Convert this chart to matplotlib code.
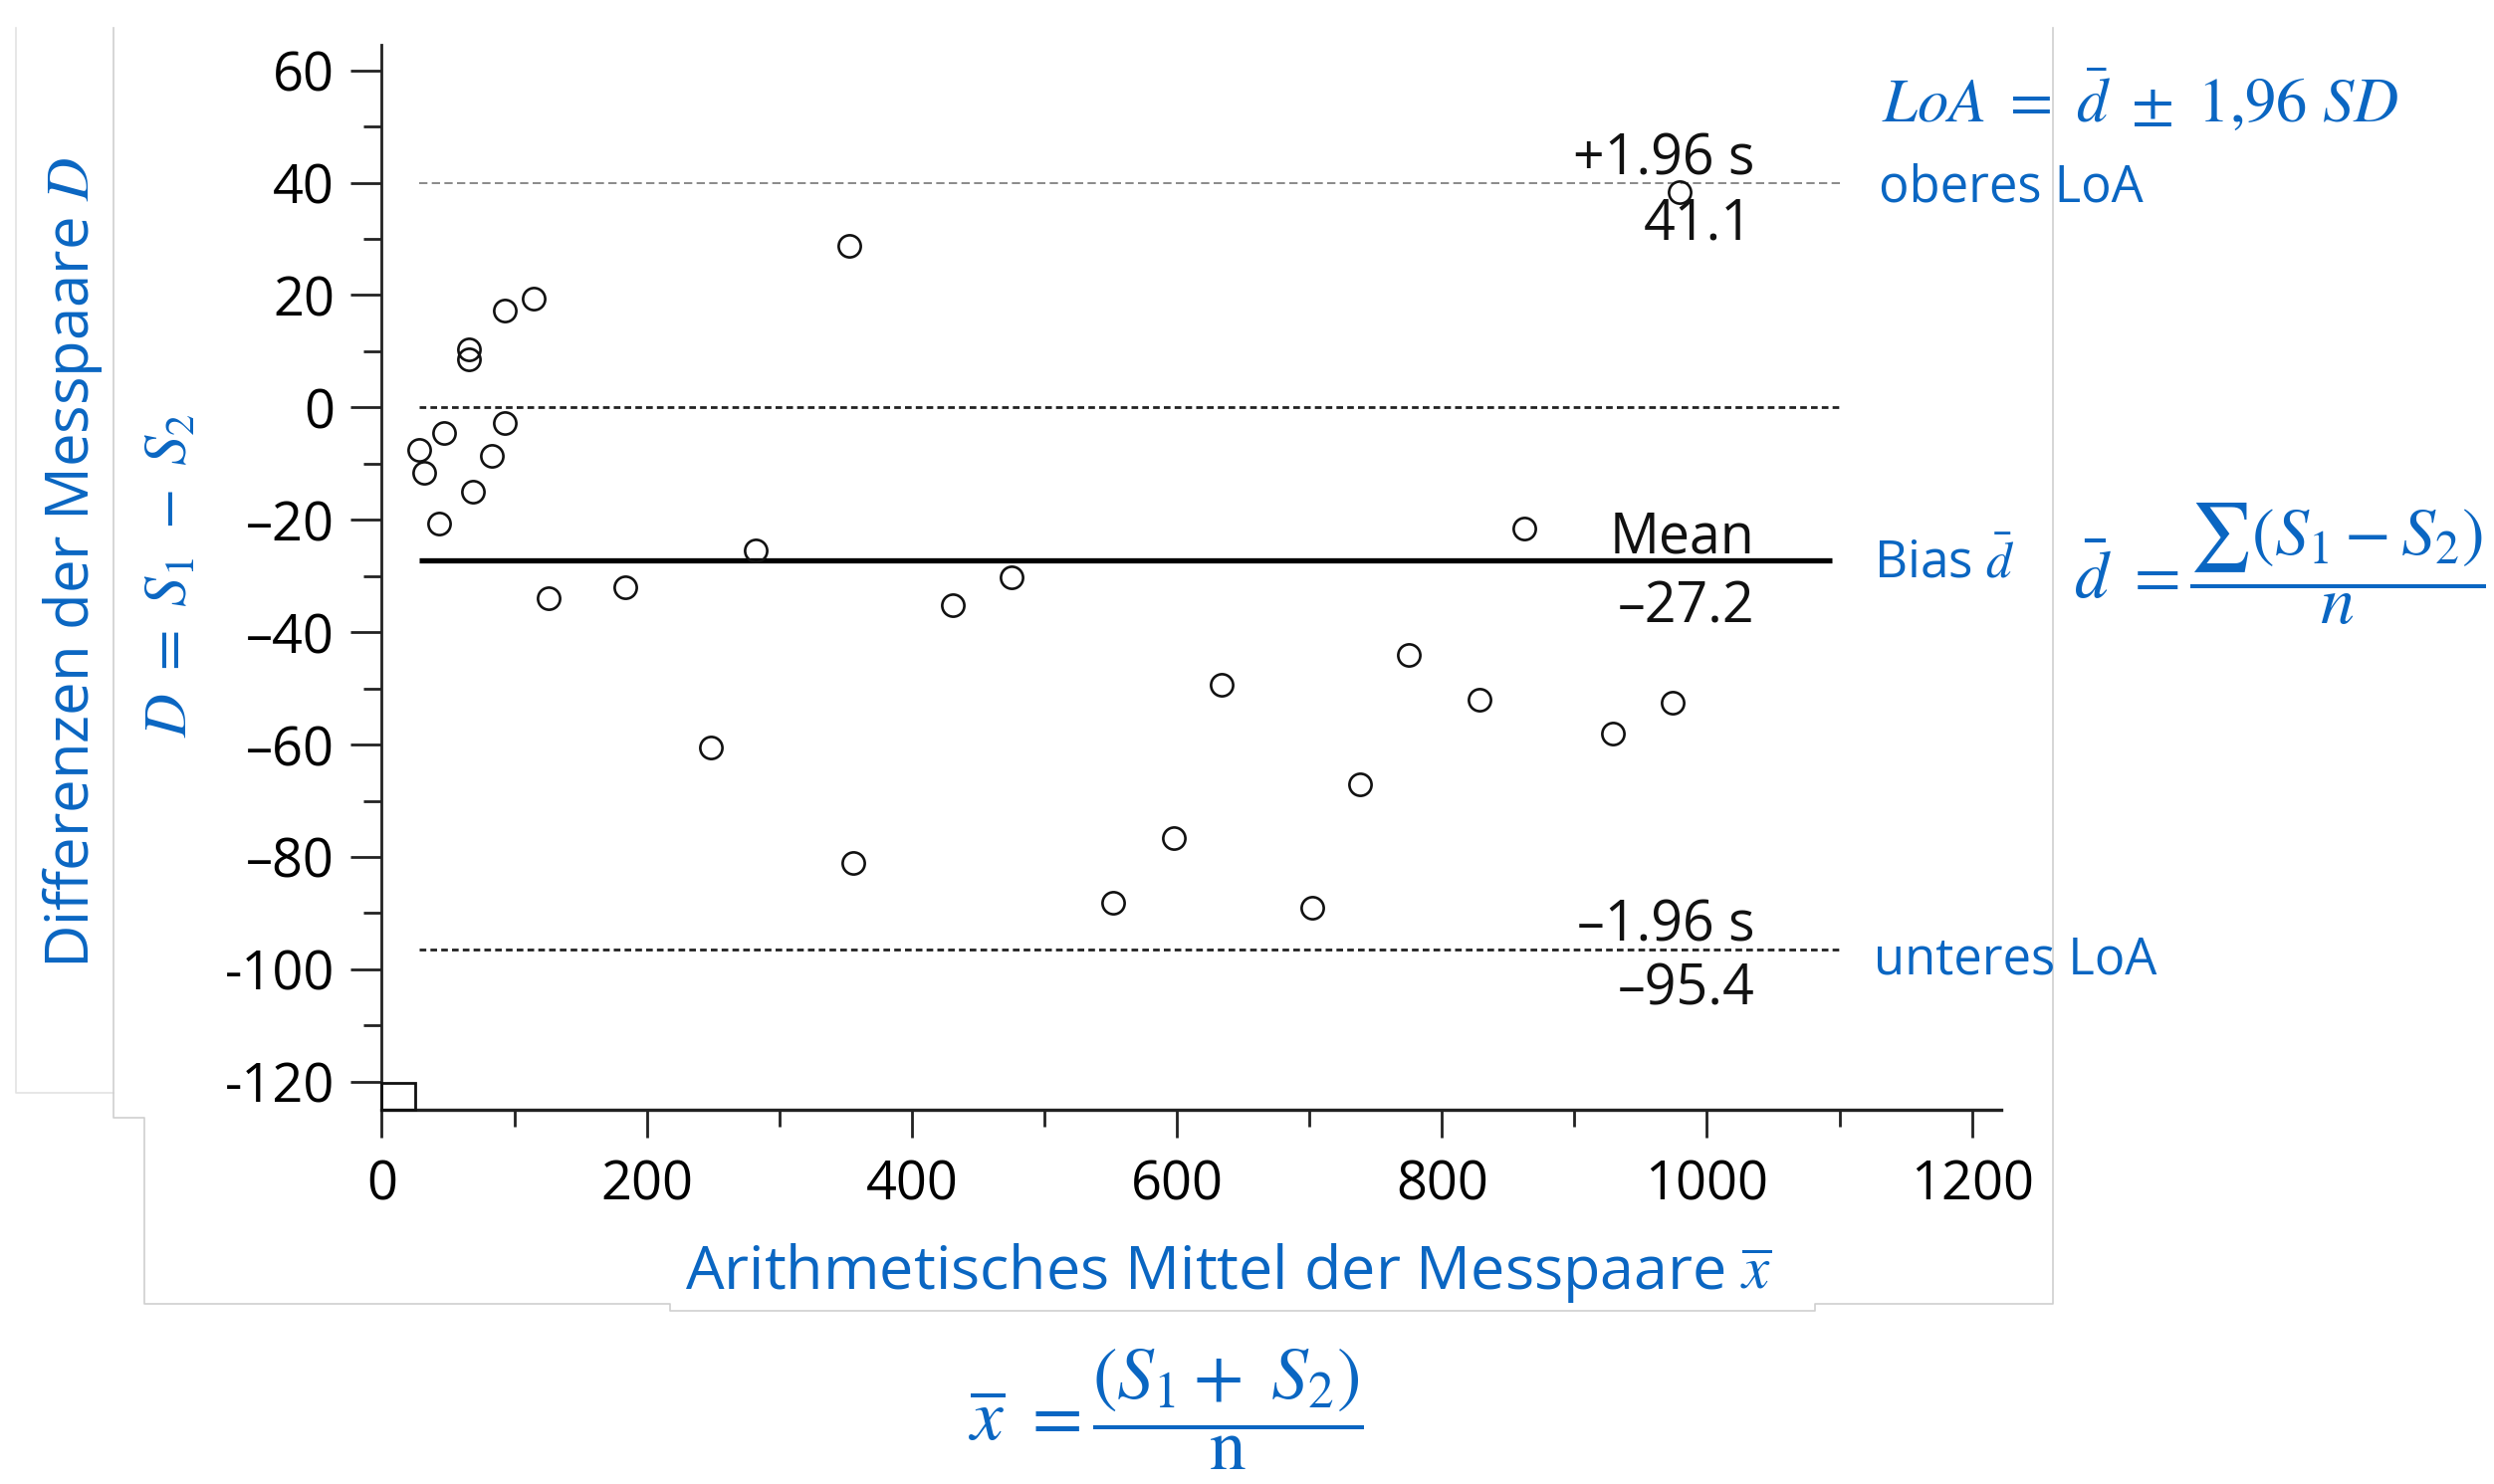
import matplotlib
matplotlib.use("Agg")
import matplotlib.pyplot as plt
from matplotlib.lines import Line2D
from matplotlib.patches import Rectangle
from matplotlib.ticker import MultipleLocator

# ---------------- data ----------------
mean_x = [28, 32, 47, 43, 66, 66, 69, 83, 93, 93, 115, 126, 184, 248, 282, 353,
          356, 431, 475, 552, 598, 634, 702, 738, 775, 828, 862, 929, 974, 979]
diff_d = [-7.5, -11.7, -4.6, -20.6, 10.3, 8.6, -15.0, -8.6, 17.3, -2.7, 19.3, -34.0,
          -32.0, -60.5, -25.5, 28.7, -81.0, -35.2, -30.3, -88.2, -76.6, -49.3, -89.0,
          -67.1, -44.0, -52.1, -21.6, -58.0, -52.6, 38.3]
bias = -27.2
loa_upper_line = 40.0
loa_lower_line = -96.5
upper_text = ["+1.96 s", "41.1"]
mean_text = ["Mean", "\u201327.2"]
lower_text = ["\u20131.96 s", "\u201395.4"]
x_ticks = [0, 200, 400, 600, 800, 1000, 1200]
x_tick_labels = ["0", "200", "400", "600", "800", "1000", "1200"]
y_ticks = [-120, -100, -80, -60, -40, -20, 0, 20, 40, 60]
y_tick_labels = ["-120", "-100", "\u201380", "\u201360", "\u201340", "\u201320", "0", "20", "40", "60"]

BLUE = "#0A66C2"
W, H = 2505, 1491

plt.rcParams["font.family"] = ["Open Sans", "DejaVu Sans"]
plt.rcParams["mathtext.fontset"] = "stix"

fig = plt.figure(figsize=(W / 100, H / 100), dpi=100)
fig.patch.set_facecolor("white")


def fx(x):
    return x / W


def fy(y):
    return 1 - y / H


# axes placement (pixel coords of reference)
ax_left, ax_right = 383.4, 2010.0
ax_bottom, ax_top = 1115.0, 45.3
ax = fig.add_axes([fx(ax_left), fy(ax_bottom), (ax_right - ax_left) / W, (ax_bottom - ax_top) / H])
ax.set_xlim(0, 1222)
ax.set_ylim(-125, 64.5)
for s in ["top", "right"]:
    ax.spines[s].set_visible(False)
ax.spines["left"].set_linewidth(2.0)
ax.spines["bottom"].set_linewidth(2.4)
ax.spines["left"].set_color("#222222")
ax.spines["bottom"].set_color("#222222")

ax.set_xticks(x_ticks)
ax.set_xticklabels(x_tick_labels)
ax.xaxis.set_minor_locator(MultipleLocator(100))
ax.set_yticks(y_ticks)
ax.set_yticklabels(y_tick_labels)
ax.yaxis.set_minor_locator(MultipleLocator(10))
ax.tick_params(axis="y", which="major", length=22, width=2.0, labelsize=39, pad=12, color="#222222")
ax.tick_params(axis="y", which="minor", length=13, width=2.0, color="#222222")
ax.tick_params(axis="x", which="major", length=20, width=2.0, labelsize=39, pad=15, color="#222222")
ax.tick_params(axis="x", which="minor", length=12.5, width=2.0, color="#222222")

# reference lines
line_x0, line_x1 = 28, 1101
ax.plot([line_x0, line_x1], [loa_upper_line] * 2, color="#777777", lw=1.2, ls=(0, (5, 2.6)), zorder=2)
ax.plot([line_x0, line_x1], [0, 0], color="#222222", lw=2.0, ls=(0, (2.4, 1.5)), zorder=2)
ax.plot([line_x0, line_x1], [loa_lower_line] * 2, color="#222222", lw=2.0, ls=(0, (2.4, 1.5)), zorder=2)
ax.plot([line_x0, 1094], [bias, bias], color="black", lw=3.8, solid_capstyle="butt", zorder=2)

# points
ax.plot(mean_x, diff_d, ls="none", marker="o", ms=16, mfc="none", mec="#111111", mew=1.9, zorder=3)

# small square at origin
ax.add_patch(Rectangle((0, -125), 25, 4.7, fill=False, ec="#111111", lw=2.0, clip_on=False, zorder=3))

# annotations in plot
tx = 1036
ts = 40
dy = -0.8
ax.text(tx, loa_upper_line + 4.8 + dy, upper_text[0], ha="right", va="center", fontsize=ts, color="#111111")
ax.text(tx - 1, loa_upper_line - 6.8 + dy, upper_text[1], ha="right", va="center", fontsize=ts, color="#111111")
ax.text(tx, bias + 4.6 + dy, mean_text[0], ha="right", va="center", fontsize=ts, color="#111111")
ax.text(tx, bias - 7.8 + dy, mean_text[1], ha="right", va="center", fontsize=ts, color="#111111")
ax.text(tx, loa_lower_line + 4.9 + dy, lower_text[0], ha="right", va="center", fontsize=ts, color="#111111")
ax.text(tx, loa_lower_line - 6.4 + dy, lower_text[1], ha="right", va="center", fontsize=ts, color="#111111")

# blue labels
fig.text(fx(73), fy(565), "Differenzen der Messpaare $D$", rotation=90, ha="center", va="center",
         fontsize=43, color=BLUE)
fig.text(fx(172), fy(578), r"$D\ =\ S_1\ -\ S_2$", rotation=90, ha="center", va="center",
         fontsize=43.5, color=BLUE)
fig.text(fx(1234), fy(1279), r"Arithmetisches Mittel der Messpaare $\overline{x}$", ha="center", va="center",
         fontsize=44, color=BLUE)
fig.text(fx(1171), fy(1416), r"$\overline{x}\ = \dfrac{(S_1 +\ S_2)}{\mathrm{n}}$", ha="center", va="center",
         fontsize=53, color=BLUE)
fig.text(fx(1890), fy(104), r"$LoA\ =\ \bar{d}\ \pm\ 1{,}96\ SD$", ha="left", va="center",
         fontsize=45, color=BLUE)
fig.text(fx(1887), fy(189), "oberes LoA", ha="left", va="center", fontsize=36.5, color=BLUE)
fig.text(fx(1882), fy(567), r"Bias $\bar{d}$", ha="left", va="center", fontsize=37, color=BLUE)
fig.text(fx(1882), fy(965), "unteres LoA", ha="left", va="center", fontsize=36.5, color=BLUE)
fig.text(fx(2290), fy(567), r"$\bar{d}\ = \dfrac{\sum(S_1 - S_2)}{n}$", ha="center", va="center",
         fontsize=49, color=BLUE)

# faint screenshot borders
def fline(xs, ys, color):
    fig.add_artist(Line2D([fx(x) for x in xs], [fy(y) for y in ys], color=color, lw=1.2,
                          transform=fig.transFigure))

fline([15.7, 15.7, 113.8], [28, 1098, 1098], "#e3e3e3")
fline([113.8, 113.8, 145, 145, 673, 673, 1823, 1823, 2062, 2062],
      [28, 1122.7, 1122.7, 1310, 1310, 1317, 1317, 1310, 1310, 28], "#cfcfcf")

fig.savefig("out.png", dpi=100, facecolor="white")
